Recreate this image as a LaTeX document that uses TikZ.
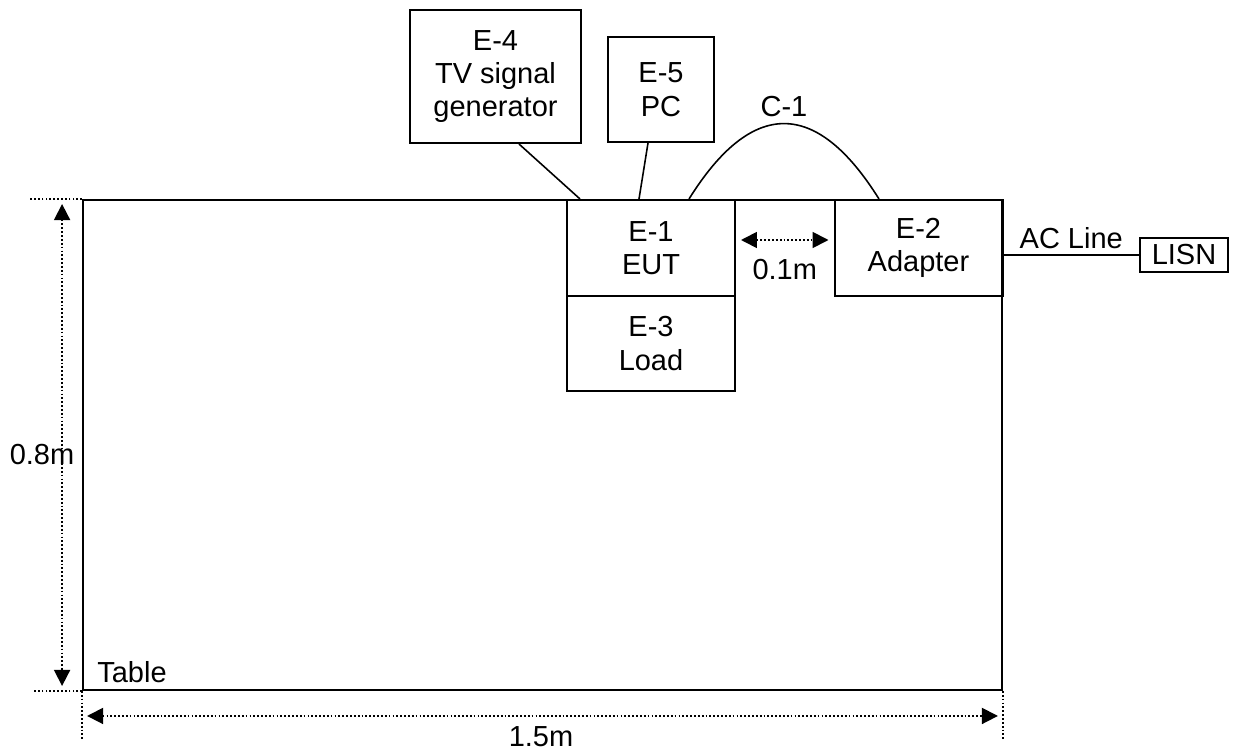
\documentclass[tikz,border=0pt]{standalone}
\usepackage{fontspec}
\setmainfont{Liberation Sans}
\usetikzlibrary{arrows.meta, positioning, calc}

\begin{document}
\begin{tikzpicture}[
    x=0.02cm, y=-0.02cm,
    >={Triangle[length=0.32cm, width=0.32cm]},
    font=\fontsize{16.5}{19}\selectfont,
    unit/.style={draw=black, line width=1.15pt, align=center, inner sep=0pt},
    cable/.style={draw=black, line width=0.9pt},
    dimline/.style={draw=black, line width=1pt, dash pattern=on 1pt off 1.2pt},
    dimtext/.style={inner sep=0pt}
]
\useasboundingbox (0,0) rectangle (1258,753);

% table
\node[unit, minimum width=18.38cm, minimum height=9.8cm] (table) at (542.5,445) {};
\node[anchor=base west, inner sep=0pt] (tablename) at (97,682) {Table};

% equipment on the table
\node[unit, minimum width=3.36cm, minimum height=1.92cm] (eut) at (651,248) {E-1\\EUT};
\node[unit, minimum width=3.36cm, minimum height=1.9cm] (load) at (651,343.5) {E-3\\Load};
\node[unit, minimum width=3.36cm, minimum height=1.92cm] (adapter) at (918.5,248) {E-2\\Adapter};

% equipment off the table
\node[unit, minimum width=3.42cm, minimum height=2.66cm] (tvgen) at (495.5,76.5) {E-4\\TV signal\\generator};
\node[unit, minimum width=2.12cm, minimum height=2.1cm] (pc) at (661,89.5) {E-5\\PC};
\node[unit, minimum width=1.76cm, minimum height=0.68cm] (lisn) at (1184,255) {LISN};

% cables
\draw[cable] ([xshift=0.47cm]tvgen.south) -- ([xshift=0.28cm]eut.north west);
\draw[cable] ([xshift=-0.26cm]pc.south) -- ([xshift=-0.24cm]eut.north);
\draw[cable] ([xshift=0.76cm]eut.north) to[out=58, in=122, looseness=1.6]
    node[pos=0.5, above] (c1) {C-1} ([xshift=-0.79cm]adapter.north);
\draw[cable] (lisn.west) -- (lisn.west -| adapter.east)
    node[midway, above] (acline) {AC Line};

% spacing between EUT and adapter
\draw[dimline, <->] ([xshift=0.1cm, yshift=0.16cm]eut.east) -- ([xshift=-0.1cm, yshift=0.16cm]adapter.west)
    node[midway, below=0.25cm] (gap) {0.1m};

% extension lines
\draw[dimline] (table.north west) -- ++(-53,0);
\draw[dimline] (table.south west) -- ++(-48,0);
\draw[dimline] (table.south west) -- ++(0,50);
\draw[dimline] (table.south east) -- ++(0,50);

% table dimensions
\draw[dimline, <->] ([xshift=-0.4cm, yshift=-0.1cm]table.north west) -- ([xshift=-0.4cm, yshift=0.1cm]table.south west);
\node (height) at (42,455) {0.8m};
\draw[dimline, <->] ([xshift=0.1cm, yshift=-0.5cm]table.south west) -- ([xshift=-0.1cm, yshift=-0.5cm]table.south east);
\node[dimtext] (width) at (541,737) {1.5m};

\end{tikzpicture}
\end{document}
